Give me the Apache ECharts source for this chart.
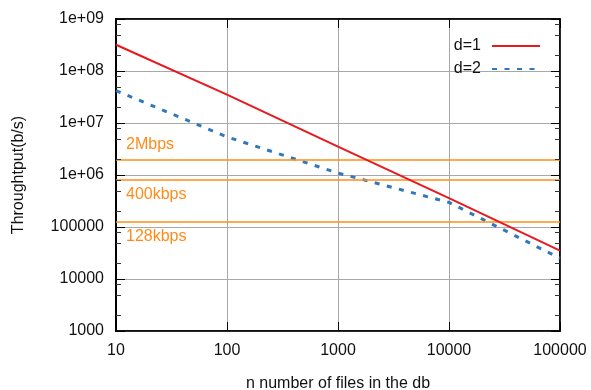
<!DOCTYPE html>
<html>
<head>
<meta charset="utf-8">
<script src="https://cdn.jsdelivr.net/npm/echarts@6/dist/echarts.min.js"></script>
<style>html,body{margin:0;padding:0;background:#fff}#c{width:591px;height:390px}</style>
</head>
<body>
<div id="c"></div>
<script>
// ---- data ----
const nValues = [10, 100, 1000, 10000, 100000];
const d1Values = [3.2e8, 3.5e7, 3.5e6, 3.6e5, 3.5e4];
const d2Values = [4.2e7, 5.4e6, 1.09e6, 2.97e5, 2.5e4];
const refNames = ['2Mbps', '400kbps', '128kbps'];
const refValues = [2e6, 8e5, 1.28e5];
const xTicks = [10, 100, 1000, 10000, 100000];
const yTicks = [1000, 10000, 100000, 1e6, 1e7, 1e8, 1e9];
const yMinorTicks = [2e3, 5e3, 8e3, 2e4, 5e4, 8e4, 2e5, 5e5, 8e5, 2e6, 5e6, 8e6, 2e7, 5e7, 8e7, 2e8, 5e8, 8e8];

const FONT = "'Liberation Sans', Arial, sans-serif";
const ORANGE = '#ff8c1a';
const GRIDC = '#a8a8a8';

function yFmt(v) {
  if (v >= 1e6) {
    const e = Math.round(Math.log10(v));
    return '1e+' + (e < 10 ? '0' + e : e);
  }
  return String(Math.round(v));
}

const chart = echarts.init(document.getElementById('c'), null, {renderer: 'canvas'});
const baseX = {type: 'log', logBase: 10, min: xTicks[0], max: xTicks[xTicks.length - 1], interval: 1, splitNumber: 4};
const baseY = {type: 'log', logBase: 10, min: yTicks[0], max: yTicks[yTicks.length - 1], interval: 1, splitNumber: 6};

const option = {
  animation: false,
  backgroundColor: '#fff',
  textStyle: {fontFamily: FONT},
  grid: {left: 116, right: 31, top: 19, bottom: 59, show: true, borderColor: '#000', borderWidth: 1.5,
         backgroundColor: 'transparent', containLabel: false, outerBoundsMode: 'none'},
  legend: {
    data: ['d=1', 'd=2'],
    orient: 'vertical', align: 'right', right: 45, top: 33,
    itemWidth: 48, itemHeight: 14, itemGap: 7,
    itemStyle: {opacity: 0, borderWidth: 0},
    textStyle: {fontFamily: FONT, fontSize: 16, color: '#111', padding: [0, 6, 0, 0]},
    selectedMode: false
  },
  xAxis: [
    Object.assign({}, baseX, {
      position: 'bottom',
      name: 'n number of files in the db', nameLocation: 'middle', nameGap: 45,
      nameTextStyle: {fontFamily: FONT, fontSize: 16, color: '#111'},
      axisLine: {show: true, lineStyle: {color: '#000', width: 1.5}},
      axisTick: {show: true, inside: true, length: 9, lineStyle: {color: '#000', width: 1}},
      axisLabel: {fontFamily: FONT, fontSize: 16, color: '#111', margin: 12, formatter: v => String(Math.round(v))},
      splitLine: {show: true, lineStyle: {color: GRIDC, width: 1}},
      minorTick: {show: false}, minorSplitLine: {show: false}
    }),
    Object.assign({}, baseX, {
      position: 'top',
      axisLine: {show: true, lineStyle: {color: '#000', width: 1.5}},
      axisTick: {show: true, inside: true, length: 9, lineStyle: {color: '#000', width: 1}},
      axisLabel: {show: false},
      splitLine: {show: false}
    })
  ],
  yAxis: [
    Object.assign({}, baseY, {
      position: 'left',
      name: 'Throughtput(b/s)', nameLocation: 'middle', nameGap: 89,
      nameTextStyle: {fontFamily: FONT, fontSize: 16, color: '#111'},
      axisLine: {show: true, lineStyle: {color: '#000', width: 2}},
      axisTick: {show: true, inside: true, length: 9, lineStyle: {color: '#000', width: 1}},
      axisLabel: {fontFamily: FONT, fontSize: 16, color: '#111', margin: 12, formatter: yFmt},
      splitLine: {show: true, lineStyle: {color: GRIDC, width: 1}}
    }),
    Object.assign({}, baseY, {
      position: 'right',
      axisLine: {show: true, lineStyle: {color: '#000', width: 1.5}},
      axisTick: {show: true, inside: true, length: 9, lineStyle: {color: '#000', width: 1}},
      axisLabel: {show: false},
      splitLine: {show: false}
    })
  ],
  series: [
    {
      name: 'd=1', type: 'line', xAxisIndex: 0, yAxisIndex: 0,
      data: nValues.map((n, i) => [n, d1Values[i]]),
      symbol: 'none', showSymbol: false, silent: true,
      lineStyle: {color: '#e8191e', width: 2},
      itemStyle: {color: '#e8191e'},
      z: 5,
      markLine: {
        silent: true, symbol: ['none', 'none'], animation: false,
        lineStyle: {color: ORANGE, width: 1.5, type: 'solid'},
        data: refNames.map((nm, i) => ({
          name: nm, yAxis: refValues[i],
          label: {
            show: true, formatter: '{b}',
            position: i === 0 ? 'insideStartTop' : 'insideStartBottom',
            distance: [10, 7],
            color: ORANGE, fontSize: 16, fontFamily: FONT
          }
        }))
      }
    },
    {
      name: 'd=2', type: 'line', xAxisIndex: 0, yAxisIndex: 0,
      data: nValues.map((n, i) => [n, d2Values[i]]),
      symbol: 'none', showSymbol: false, silent: true,
      lineStyle: {color: '#3177bb', width: 3, type: [5, 7.5]},
      itemStyle: {color: '#3177bb'},
      z: 4
    },
    {
      name: 'minorTicks', type: 'custom', xAxisIndex: 0, yAxisIndex: 0, silent: true,
      data: yMinorTicks.map(v => [xTicks[0], v]),
      encode: {x: 0, y: 1},
      renderItem: function (params, api) {
        const p = api.coord([api.value(0), api.value(1)]);
        const cs = params.coordSys;
        const y = Math.round(p[1]) + 0.5;
        return {
          type: 'group',
          children: [
            {type: 'line', shape: {x1: cs.x, y1: y, x2: cs.x + 5, y2: y}, style: {stroke: '#333', lineWidth: 1}},
            {type: 'line', shape: {x1: cs.x + cs.width - 5, y1: y, x2: cs.x + cs.width, y2: y}, style: {stroke: '#333', lineWidth: 1}}
          ]
        };
      },
      z: 6
    }
  ]
};
chart.setOption(option);
</script>
</body>
</html>
